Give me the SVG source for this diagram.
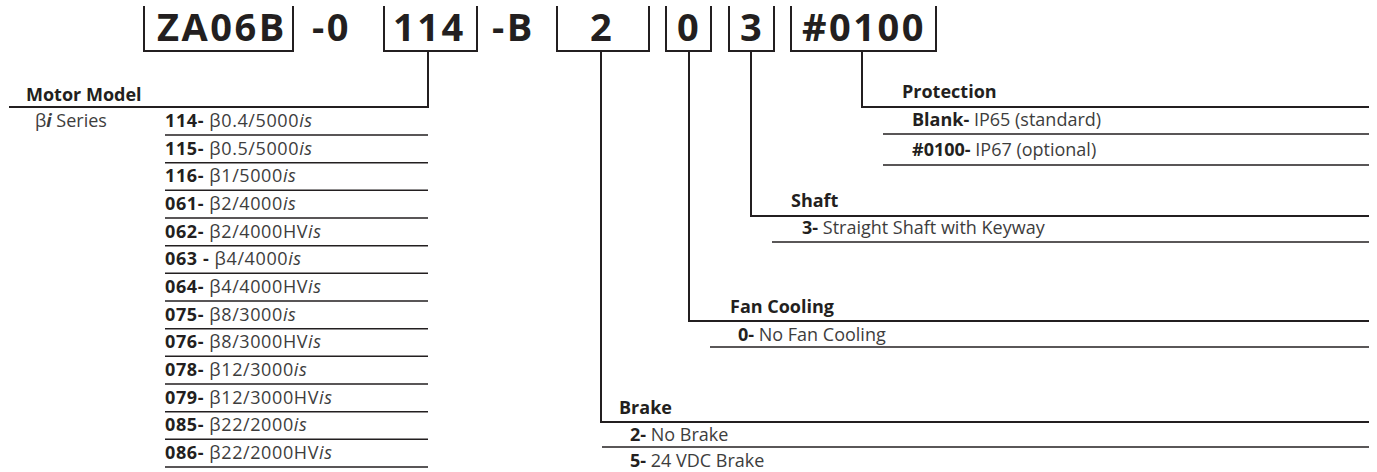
<svg xmlns="http://www.w3.org/2000/svg" width="1377" height="472" viewBox="0 0 1377 472">
<style>
  text { font-family: "Open Sans", "Liberation Sans", sans-serif; fill: #231f20; }
  .code { font-size: 38px; font-weight: bold; letter-spacing: 2.5px; }
  .hdr { font-size: 18px; font-weight: bold; }
  .row { font-size: 18px; fill: #3d3d3d; }
  .row .b { font-weight: bold; fill: #231f20; }
  .num { letter-spacing: 0.6px; }
  .it { font-style: italic; }
  .ln { stroke: #231f20; stroke-width: 2; fill: none; }
  .rl { stroke: #231f20; stroke-width: 1.6; fill: none; }
</style>
<rect width="1377" height="472" fill="#ffffff"/>

<g id="connectors">
  <path class="ln" d="M144,6 V51 H293 V6"/>
  <path class="ln" d="M384,6 V51 H477 V6 M428,51 V107 H9"/>
  <path class="ln" d="M557,6 V51 H649 V6 M601,51 V422 H1369"/>
  <path class="ln" d="M666,6 V51 H711 V6 M689,51 V321 H1369"/>
  <path class="ln" d="M729,6 V51 H774 V6 M751,51 V216 H1369"/>
  <path class="ln" d="M791,6 V51 H936 V6 M862,51 V107 H1369"/>
</g>

<g id="code">
  <text class="code" x="157" y="41">ZA06B</text>
  <text class="code" x="312" y="41">-0</text>
  <text class="code" x="393" y="41">114</text>
  <text class="code" x="492" y="41">-B</text>
  <text class="code" x="602" y="41" text-anchor="middle">2</text>
  <text class="code" x="689" y="41" text-anchor="middle">0</text>
  <text class="code" x="752" y="41" text-anchor="middle">3</text>
  <text class="code" x="802" y="41">#0100</text>
</g>

<g id="motor-model">
  <text class="hdr" x="26" y="101">Motor Model</text>
  <text class="row" x="35" y="127">β<tspan class="it" font-weight="bold">i</tspan> Series</text>
  <g class="rows">
    <text class="row num" x="165" y="127"><tspan class="b">114-</tspan> β0.4/5000<tspan class="it">is</tspan></text>
    <text class="row num" x="165" y="154.7"><tspan class="b">115-</tspan> β0.5/5000<tspan class="it">is</tspan></text>
    <text class="row num" x="165" y="182.3"><tspan class="b">116-</tspan> β1/5000<tspan class="it">is</tspan></text>
    <text class="row num" x="165" y="210"><tspan class="b">061-</tspan> β2/4000<tspan class="it">is</tspan></text>
    <text class="row num" x="165" y="237.7"><tspan class="b">062-</tspan> β2/4000HV<tspan class="it">is</tspan></text>
    <text class="row num" x="165" y="265.3"><tspan class="b">063 -</tspan> β4/4000<tspan class="it">is</tspan></text>
    <text class="row num" x="165" y="293"><tspan class="b">064-</tspan> β4/4000HV<tspan class="it">is</tspan></text>
    <text class="row num" x="165" y="320.7"><tspan class="b">075-</tspan> β8/3000<tspan class="it">is</tspan></text>
    <text class="row num" x="165" y="348.3"><tspan class="b">076-</tspan> β8/3000HV<tspan class="it">is</tspan></text>
    <text class="row num" x="165" y="376"><tspan class="b">078-</tspan> β12/3000<tspan class="it">is</tspan></text>
    <text class="row num" x="165" y="403.7"><tspan class="b">079-</tspan> β12/3000HV<tspan class="it">is</tspan></text>
    <text class="row num" x="165" y="431.3"><tspan class="b">085-</tspan> β22/2000<tspan class="it">is</tspan></text>
    <text class="row num" x="165" y="459"><tspan class="b">086-</tspan> β22/2000HV<tspan class="it">is</tspan></text>
  </g>
  <path class="rl" d="M165,135 H428 M165,162.7 H428 M165,190.3 H428 M165,218 H428 M165,245.7 H428 M165,273.3 H428 M165,301 H428 M165,328.7 H428 M165,356.3 H428 M165,384 H428 M165,411.7 H428 M165,439.3 H428 M165,467 H428"/>
</g>

<g id="protection">
  <text class="hdr" x="902" y="98">Protection</text>
  <text class="row" x="912" y="126"><tspan class="b">Blank-</tspan> IP65 (standard)</text>
  <text class="row" x="912" y="156"><tspan class="b">#0100-</tspan> IP67 (optional)</text>
  <path class="rl" d="M883,134 H1369 M883,165 H1369"/>
</g>

<g id="shaft">
  <text class="hdr" x="791" y="207">Shaft</text>
  <text class="row" x="802" y="234"><tspan class="b">3-</tspan> Straight Shaft with Keyway</text>
  <path class="rl" d="M772,242 H1369"/>
</g>

<g id="fan-cooling">
  <text class="hdr" x="730" y="313">Fan Cooling</text>
  <text class="row" x="738" y="341"><tspan class="b">0-</tspan> No Fan Cooling</text>
  <path class="rl" d="M710,347 H1369"/>
</g>

<g id="brake">
  <text class="hdr" x="619" y="414">Brake</text>
  <text class="row" x="630" y="441"><tspan class="b">2-</tspan> No Brake</text>
  <text class="row" x="630" y="467"><tspan class="b">5-</tspan> 24 VDC Brake</text>
  <path class="rl" d="M602,447 H1369"/>
</g>
</svg>
